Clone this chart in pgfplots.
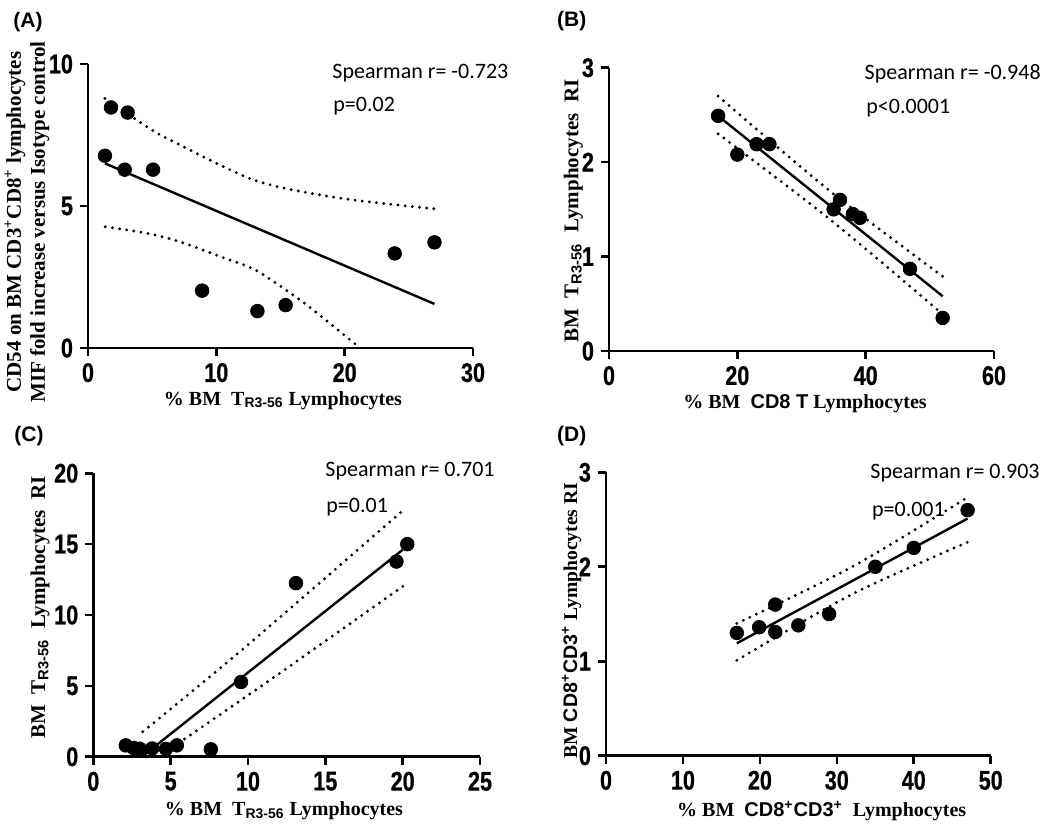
\documentclass[border=0pt]{standalone}
\usepackage{fontspec}
\setmainfont{Liberation Serif}
\newfontfamily\lsans{Liberation Sans}
\newfontfamily\carl{Carlito}
\newfontfamily\tickf[FakeStretch=0.8,FakeBold=0.6]{Liberation Sans}
\usepackage{pgfplots}
\pgfplotsset{compat=1.18}

\newcommand{\Rsub}{{\lsans\textsubscript{R3-56}}}
\newcommand{\pxy}[2]{({#1*0.5pt},{412.5pt-#2*0.5pt})}

\pgfplotsset{gp/.style={
  scale only axis, anchor=south west,
  axis x line*=bottom, axis y line*=left,
  axis line style={line width=1.3pt,-},
  tick align=outside, major tick length=4pt,
  every tick/.style={line width=1.3pt, black},
  tick label style={font=\tickf\bfseries\fontsize{13.5}{14}\selectfont},
  /pgf/number format/assume math mode=true,
  clip=false, enlargelimits=false,
},
pts/.style={only marks, mark=*, mark size=3.4pt, black},
fit/.style={black, line width=1.2pt},
band/.style={black, line width=1.6pt, dash pattern=on 0pt off 3.6pt, line cap=round, smooth},
}

\begin{document}
\begin{tikzpicture}
\useasboundingbox (0,0) rectangle (531.5pt,412.5pt);

% ---------------- (A)
\begin{axis}[gp, at={(44pt,238.5pt)}, width=192.5pt, height=142pt,
  xmin=0, xmax=30, ymin=0, ymax=10, xtick={0,10,20,30}, ytick={0,5,10}]
\addplot[pts] coordinates {(1.32,6.77) (1.79,8.47) (3.09,8.29) (2.86,6.28) (5.07,6.28)
  (8.89,2.02) (13.2,1.30) (15.4,1.51) (23.9,3.33) (27.0,3.72)};
\addplot[fit] coordinates {(1.32,6.50) (27.0,1.55)};
\addplot[band] coordinates {(1.32,8.79) (4.96,7.68) (6.65,7.27) (10.03,6.50) (12.9,5.92) (16.0,5.56) (20.7,5.21) (27.0,4.90)};
\addplot[band] coordinates {(1.35,4.27) (4.57,4.04) (7.17,3.74) (10.3,3.22) (12.9,2.78) (15.5,2.02) (17.6,1.32) (21.2,0.0)};
\end{axis}

% ---------------- (B)
\begin{axis}[gp, at={(304.5pt,237pt)}, width=192.5pt, height=141.65pt,
  xmin=0, xmax=60, ymin=0, ymax=3, xtick={0,20,40,60}, ytick={0,1,2,3}]
\addplot[pts] coordinates {(17.0,2.49) (20.0,2.08) (23.0,2.19) (25.0,2.19) (35.0,1.50)
  (36.0,1.60) (38.0,1.45) (39.1,1.41) (46.9,0.87) (52.0,0.35)};
\addplot[fit] coordinates {(17,2.49) (52,0.58)};
\addplot[band] coordinates {(17,2.70) (34.5,1.69) (52,0.79)};
\addplot[band] coordinates {(17,2.30) (34.5,1.39) (51.3,0.43)};
\end{axis}

% ---------------- (C)
\begin{axis}[gp, at={(46.65pt,34.15pt)}, width=193.35pt, height=141.7pt,
  xmin=0, xmax=25, ymin=0, ymax=20, xtick={0,5,10,15,20,25}, ytick={0,5,10,15,20}]
\addplot[pts] coordinates {(2.1,0.80) (2.6,0.62) (3.0,0.56) (3.8,0.58) (4.7,0.55) (5.4,0.80)
  (7.6,0.52) (9.55,5.27) (13.1,12.25) (19.6,13.77) (20.3,15.0)};
\addplot[fit] coordinates {(3.2,0.05) (20.0,14.6)};
\addplot[band] coordinates {(3.2,1.76) (10,7.9) (20.2,17.55)};
\addplot[band] coordinates {(5.9,1.25) (12,5.85) (20.3,12.25)};
\end{axis}

% ---------------- (D)
\begin{axis}[gp, at={(303pt,34.65pt)}, width=192.35pt, height=141.7pt,
  xmin=0, xmax=50, ymin=0, ymax=3, xtick={0,10,20,30,40,50}, ytick={0,1,2,3}]
\addplot[pts] coordinates {(17.0,1.30) (19.9,1.36) (22.0,1.60) (22.0,1.31) (25.0,1.38)
  (29.0,1.50) (35.0,2.00) (40.0,2.20) (47.0,2.60)};
\addplot[fit] coordinates {(17,1.19) (47,2.51)};
\addplot[band] coordinates {(17,1.40) (32,2.00) (46.7,2.72)};
\addplot[band] coordinates {(17,1.01) (32,1.71) (47,2.26)};
\end{axis}

% ---------------- texts
\begin{scope}[every node/.style={inner sep=0pt}]
\node[anchor=base west, font=\lsans\bfseries\fontsize{10.5}{12}\selectfont] at \pxy{13}{28} {(A)};
\node[anchor=base west, font=\lsans\bfseries\fontsize{10.5}{12}\selectfont] at \pxy{556.7}{27} {(B)};
\node[anchor=base west, font=\lsans\bfseries\fontsize{10.5}{12}\selectfont] at \pxy{14}{441.7} {(C)};
\node[anchor=base west, font=\lsans\bfseries\fontsize{10.5}{12}\selectfont] at \pxy{556.7}{441.7} {(D)};

\begin{scope}[every node/.append style={anchor=base west, font=\carl\fontsize{11}{12}\selectfont}]
\node at \pxy{332}{78.3} {Spearman r= -0.723};
\node at \pxy{333}{111.7} {p=0.02};
\node at \pxy{864.3}{80} {Spearman r= -0.948};
\node at \pxy{866}{113.3} {p<0.0001};
\node at \pxy{325}{476.7} {Spearman r= 0.701};
\node at \pxy{326}{512.7} {p=0.01};
\node at \pxy{870}{478.3} {Spearman r= 0.903};
\node at \pxy{871.7}{516.7} {p=0.001};
\end{scope}

\begin{scope}[every node/.append style={anchor=base, font=\bfseries\fontsize{10}{12}\selectfont}]
\node at \pxy{283}{405} {\%\ BM\ \ T\Rsub\ Lymphocytes};
\node at \pxy{805}{408.3} {\%\ BM\ \ {\lsans CD8\ T} Lymphocytes};
\node at \pxy{284}{815} {\%\ BM\ \ T\Rsub\ Lymphocytes};
\node at \pxy{821.7}{816.7} {\%\ BM\ \ {\lsans CD8\textsuperscript{+}CD3\textsuperscript{+}}\ \ Lymphocytes};
\end{scope}

\node[rotate=90, align=center, font=\bfseries\fontsize{10.5}{12}\selectfont] at \pxy{27}{222}
  {CD54 on BM CD3\textsuperscript{+}CD8\textsuperscript{+} lymphocytes\\MIF fold increase versus Isotype control};
\node[rotate=90, font=\bfseries\fontsize{10.5}{12}\selectfont] at \pxy{573.3}{211}
  {BM\ \ T\Rsub\ \ Lymphocytes\ \ RI};
\node[rotate=90, font=\bfseries\fontsize{10.5}{12}\selectfont] at \pxy{40}{607.5}
  {BM\ \ T\Rsub\ \ Lymphocytes\ \ RI};
\node[rotate=90, font=\bfseries\fontsize{9.8}{12}\selectfont] at \pxy{571.7}{620.7}
  {BM\ {\lsans CD8\textsuperscript{+}CD3\textsuperscript{+}}\ Lymphocytes\ RI};
\end{scope}
\end{tikzpicture}
\end{document}
